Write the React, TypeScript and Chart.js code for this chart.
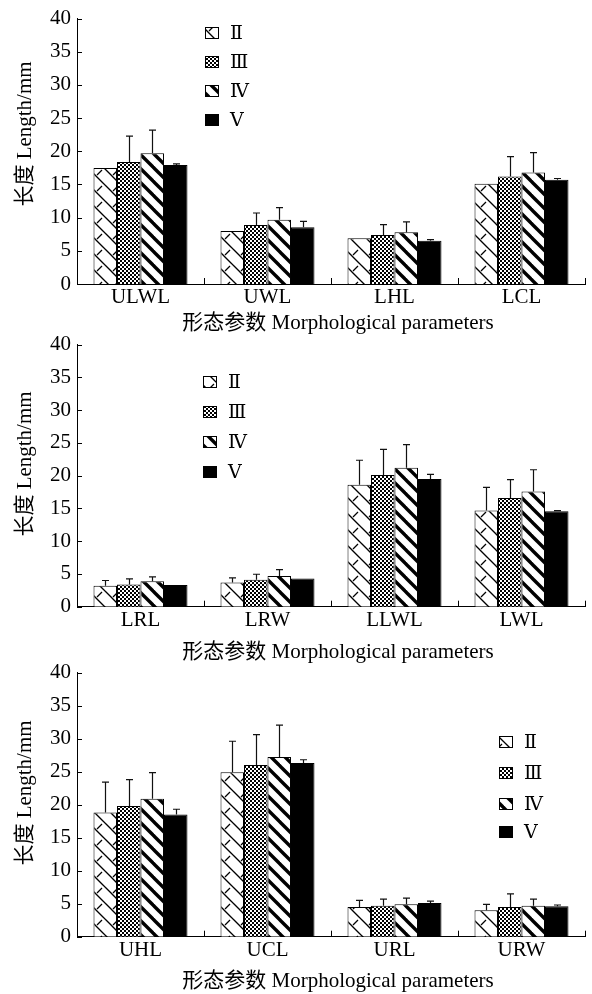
import { useEffect, useRef } from 'react';
import { Chart, registerables } from 'chart.js';
Chart.register(...registerables);

const SERIES_LABELS = ['Ⅱ', 'Ⅲ', 'Ⅳ', 'Ⅴ'];

// Panel 1
const P1_CATEGORIES = ['ULWL', 'UWL', 'LHL', 'LCL'];
const P1_II = [17.5, 8.0, 6.9, 15.1];
const P1_III = [18.4, 8.9, 7.4, 16.2];
const P1_IV = [19.7, 9.7, 7.8, 16.8];
const P1_V = [17.95, 8.55, 6.5, 15.7];
const P1_II_ERR = [0, 0, 0, 0];
const P1_III_ERR = [3.9, 1.8, 1.55, 3.0];
const P1_IV_ERR = [3.5, 1.8, 1.55, 3.0];
const P1_V_ERR = [0.15, 0.9, 0.2, 0.2];

// Panel 2
const P2_CATEGORIES = ['LRL', 'LRW', 'LLWL', 'LWL'];
const P2_II = [3.2, 3.7, 18.6, 14.7];
const P2_III = [3.4, 4.1, 20.1, 16.6];
const P2_IV = [3.9, 4.7, 21.2, 17.6];
const P2_V = [3.3, 4.3, 19.5, 14.55];
const P2_II_ERR = [0.8, 0.7, 3.75, 3.5];
const P2_III_ERR = [0.85, 0.85, 3.9, 2.8];
const P2_IV_ERR = [0.65, 0.95, 3.55, 3.3];
const P2_V_ERR = [0, 0, 0.7, 0.1];

// Panel 3
const P3_CATEGORIES = ['UHL', 'UCL', 'URL', 'URW'];
const P3_II = [18.8, 24.9, 4.5, 4.0];
const P3_III = [19.8, 26.0, 4.7, 4.5];
const P3_IV = [20.9, 27.2, 4.9, 4.7];
const P3_V = [18.5, 26.3, 5.1, 4.6];
const P3_II_ERR = [4.6, 4.7, 1.0, 0.9];
const P3_III_ERR = [4.0, 4.6, 1.0, 2.0];
const P3_IV_ERR = [3.95, 4.85, 0.95, 1.0];
const P3_V_ERR = [0.8, 0.5, 0.3, 0.2];

const Y_TICK_STEP = 5;
const Y_MAX = 40;
const X_TITLE = '形态参数 Morphological parameters';
const Y_TITLE = '长度 Length/mm';

const FONT_FAMILY = "'Liberation Serif', 'Times New Roman', 'Noto Sans CJK SC', serif";
const LEGEND_FONT = "19px 'DejaVu Serif', 'Liberation Serif', 'Noto Sans CJK SC', serif";

const PANELS = [
  {
    categories: P1_CATEGORIES,
    values: [P1_II, P1_III, P1_IV, P1_V],
    errors: [P1_II_ERR, P1_III_ERR, P1_IV_ERR, P1_V_ERR],
    top: 0, height: 334, areaTop: 16, areaBottom: 284,
    legendX: 205, legendYs: [33, 62, 91, 120], yTitleY: 134, xTitleY: 323,
  },
  {
    categories: P2_CATEGORIES,
    values: [P2_II, P2_III, P2_IV, P2_V],
    errors: [P2_II_ERR, P2_III_ERR, P2_IV_ERR, P2_V_ERR],
    top: 326, height: 338, areaTop: 15.7, areaBottom: 280.7,
    legendX: 203, legendYs: [56, 86, 116, 146], yTitleY: 138, xTitleY: 326,
  },
  {
    categories: P3_CATEGORIES,
    values: [P3_II, P3_III, P3_IV, P3_V],
    errors: [P3_II_ERR, P3_III_ERR, P3_IV_ERR, P3_V_ERR],
    top: 654, height: 340, areaTop: 15, areaBottom: 282.7,
    legendX: 499, legendYs: [88, 119, 150, 178], yTitleY: 139, xTitleY: 327,
  },
];

function makePatterns(): (CanvasPattern | string)[] {
  const mk = (w: number, h: number, draw: (x: CanvasRenderingContext2D) => void) => {
    const c = document.createElement('canvas');
    c.width = w; c.height = h;
    const x = c.getContext('2d')!;
    x.fillStyle = '#fff';
    x.fillRect(0, 0, w, h);
    draw(x);
    return x.createPattern(c, 'repeat')!;
  };
  const diag = (x: CanvasRenderingContext2D, w: number, h: number, lw: number) => {
    x.strokeStyle = '#000';
    x.lineWidth = lw;
    for (const dx of [-w, 0, w]) {
      x.beginPath();
      x.moveTo(dx - w, -h);
      x.lineTo(dx + 2 * w, 2 * h);
      x.stroke();
    }
  };
  const p2 = mk(16, 16, (x) => {
    diag(x, 16, 16, 1.3);
    x.beginPath();
    x.moveTo(1, 15);
    x.lineTo(6, 10);
    x.stroke();
  });
  const p3 = mk(4, 4, (x) => {
    x.fillStyle = '#000';
    x.fillRect(0, 0, 2, 2);
    x.fillRect(2, 2, 2, 2);
  });
  const p4 = mk(14, 14, (x) => diag(x, 14, 14, 3.4));
  return [p2, p3, p4, '#000'];
}

function PanelChart({ panel }: { panel: typeof PANELS[number] }) {
  const ref = useRef<HTMLCanvasElement | null>(null);
  useEffect(() => {
    const canvas = ref.current!;
    const patterns = makePatterns();
    const font = { family: FONT_FAMILY, size: 21 };

    const overlay = {
      id: 'overlay',
      afterDatasetsDraw(chart: any) {
        const ctx = chart.ctx;
        const y = chart.scales.y;
        ctx.save();
        ctx.strokeStyle = '#111';
        ctx.lineWidth = 1.2;
        chart.data.datasets.forEach((ds: any, di: number) => {
          const meta = chart.getDatasetMeta(di);
          meta.data.forEach((bar: any, i: number) => {
            const e = panel.errors[di][i];
            if (!e) return;
            const v = ds.data[i];
            const yTop = y.getPixelForValue(v + e);
            const bx = Math.round(bar.x) + 0.5;
            ctx.beginPath();
            ctx.moveTo(bx, bar.y);
            ctx.lineTo(bx, yTop);
            ctx.moveTo(bx - 3.5, yTop);
            ctx.lineTo(bx + 3.5, yTop);
            ctx.stroke();
          });
        });
        ctx.restore();
      },
      afterDraw(chart: any) {
        const ctx = chart.ctx;
        const area = chart.chartArea;
        const x = chart.scales.x;
        const y = chart.scales.y;
        ctx.save();
        ctx.strokeStyle = '#000';
        ctx.lineWidth = 1;
        // inward y ticks
        for (let v = 0; v <= Y_MAX; v += Y_TICK_STEP) {
          const py = Math.round(y.getPixelForValue(v)) + 0.5;
          ctx.beginPath();
          ctx.moveTo(area.left, py);
          ctx.lineTo(area.left + 5, py);
          ctx.stroke();
        }
        // inward x ticks at category boundaries
        const n = panel.categories.length;
        for (let i = 0; i < n; i++) {
          const px = i < n - 1
            ? (x.getPixelForValue(i) + x.getPixelForValue(i + 1)) / 2
            : area.right;
          const rx = Math.round(px) + 0.5;
          ctx.beginPath();
          ctx.moveTo(rx, area.bottom);
          ctx.lineTo(rx, area.bottom - 6);
          ctx.stroke();
        }
        // titles
        ctx.fillStyle = '#000';
        ctx.font = `21px ${FONT_FAMILY}`;
        ctx.textAlign = 'center';
        ctx.textBaseline = 'middle';
        ctx.fillText(X_TITLE, 338, panel.xTitleY);
        ctx.save();
        ctx.translate(25, panel.yTitleY);
        ctx.rotate(-Math.PI / 2);
        ctx.fillText(Y_TITLE, 0, 0);
        ctx.restore();
        // legend
        ctx.font = LEGEND_FONT;
        ctx.textAlign = 'left';
        SERIES_LABELS.forEach((lab, i) => {
          const cy = panel.legendYs[i];
          const bx = panel.legendX;
          ctx.fillStyle = patterns[i] as any;
          ctx.fillRect(bx, cy - 6, 14, 12);
          ctx.strokeStyle = '#000';
          ctx.strokeRect(bx + 0.5, cy - 5.5, 13, 11);
          ctx.fillStyle = '#000';
          ctx.fillText(lab, bx + 25, cy + 1);
        });
        ctx.restore();
      },
    };

    const chart = new Chart(canvas, {
      type: 'bar',
      data: {
        labels: panel.categories,
        datasets: panel.values.map((vals, i) => ({
          label: SERIES_LABELS[i],
          data: vals,
          backgroundColor: patterns[i] as any,
          borderColor: '#000',
          borderWidth: 1,
          categoryPercentage: 0.74,
          barPercentage: 1,
        })),
      },
      options: {
        animation: false,
        responsive: false,
        devicePixelRatio: 1,
        layout: { padding: { top: panel.areaTop, right: 7, left: 0, bottom: 0 } },
        plugins: { legend: { display: false }, tooltip: { enabled: false } },
        scales: {
          x: {
            grid: { display: false, drawTicks: false },
            border: { color: '#000', width: 1 },
            ticks: { font, color: '#000', padding: 1 },
            afterFit: (s: any) => { s.height = panel.height - panel.areaBottom; },
          },
          y: {
            min: 0,
            max: Y_MAX,
            ticks: { stepSize: Y_TICK_STEP, font, color: '#000', padding: 6 },
            grid: { display: false, drawTicks: false },
            border: { color: '#000', width: 1 },
            afterFit: (s: any) => { s.width = 77; },
          },
        },
      } as any,
      plugins: [overlay],
    });
    return () => chart.destroy();
  }, [panel]);
  return (
    <canvas
      ref={ref}
      width={592}
      height={panel.height}
      style={{ position: 'absolute', left: 0, top: panel.top, width: 592, height: panel.height }}
    />
  );
}

export default function App() {
  return (
    <div style={{ position: 'absolute', left: 0, top: 0, width: 592, height: 994, background: '#fff' }}>
      {PANELS.map((p, i) => (
        <PanelChart key={i} panel={p} />
      ))}
    </div>
  );
}
